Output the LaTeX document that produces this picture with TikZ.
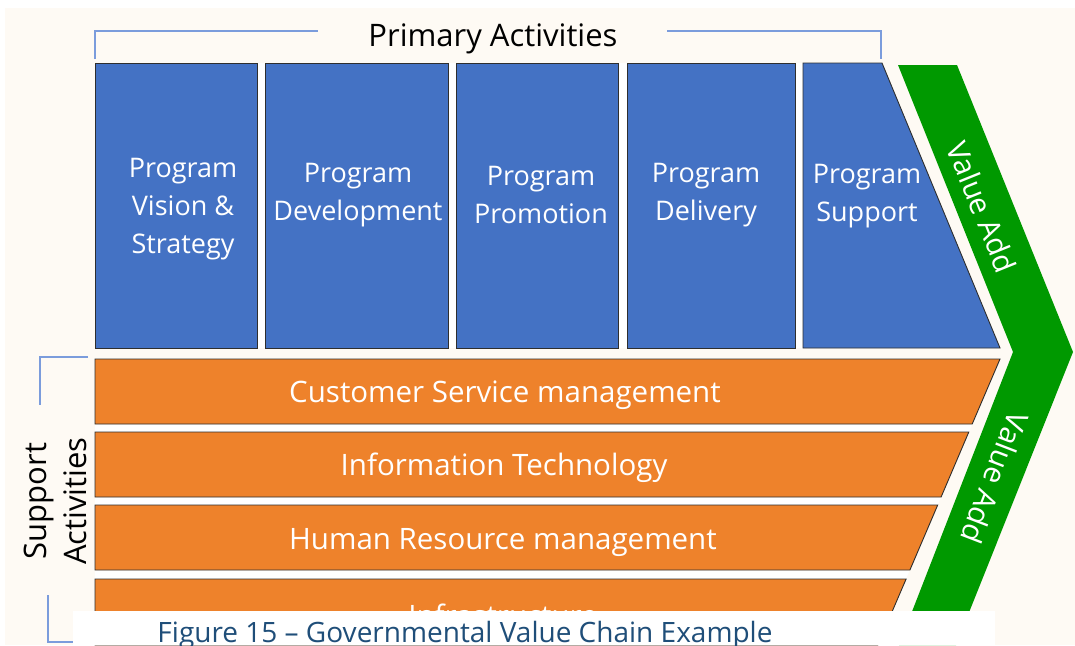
\documentclass[tikz,border=0pt]{standalone}
\usepackage{fontspec}
\setmainfont{Open Sans}
\usepackage{xcolor}
\usetikzlibrary{positioning}

\definecolor{pageback}{HTML}{FEFAF4}
\definecolor{primblue}{HTML}{4472C4}
\definecolor{supporange}{HTML}{EE822B}
\definecolor{valgreen}{HTML}{009900}
\definecolor{bracketblue}{HTML}{7B9CDC}
\definecolor{captionblue}{HTML}{1F4E79}
\definecolor{edgegray}{HTML}{2E2E2E}

\begin{document}
\begin{tikzpicture}[
            x = 1pt, y = -1pt, % one unit per pixel, y going down
            line join = miter,
            semithick % line style
        ]

        \tikzstyle{block}=[
            fill = primblue,
            draw = edgegray,
            line width = 0.9pt
        ]
        \tikzstyle{bar}=[
            fill = supporange,
            draw = edgegray,
            line width = 0.9pt
        ]
        \tikzstyle{bracket}=[
            draw = bracketblue,
            line width = 2.4pt
        ]
        \tikzstyle{blocktext}=[
            text = white,
            align = center,
            font = \fontsize{27}{38}\selectfont
        ]
        \tikzstyle{bartext}=[
            text = white,
            font = \fontsize{29.5}{34}\selectfont
        ]
        \tikzstyle{heading}=[
            text = black,
            align = center,
            font = \fontsize{31}{40}\selectfont
        ]

        \useasboundingbox (0,0) rectangle (1075,645);
        \fill[white] (0,0) rectangle (1075,645);
        \fill[pageback] (5,8) rectangle (1075,645);

        % Primary blocks
        \fill[white] (95,63) -- (882,63) -- (1000,348) -- (95,348) -- cycle;
        \filldraw[block] (95,63) rectangle (257,348);
        \filldraw[block] (265,63) rectangle (448,348);
        \filldraw[block] (456,63) rectangle (618,348);
        \filldraw[block] (627,63) rectangle (795,348);
        \filldraw[block] (803,63) -- (882,63) -- (1000,348) -- (803,348) -- cycle;

        \node[blocktext] (vision) [at={(183,209)}] {Program\\Vision \&\\Strategy};
        \node[blocktext] (develop) [at={(358,195)}] {Program\\Development};
        \node[blocktext] (promo) [at={(541,195)}] {Program\\Promotion};
        \node[blocktext] (delivery) [at={(706,195)}] {Program\\Delivery};
        \node[blocktext] (progsupp) [at={(867,196)}] {Program\\Support};

        % Support bars
        \fill[white] (95,359) -- (1000,359) -- (877.8,645) -- (95,645) -- cycle;
        \filldraw[bar] (95,359) -- (1000,359) -- (972.2,424) -- (95,424) -- cycle;
        \filldraw[bar] (95,432) -- (968.8,432) -- (941.1,497) -- (95,497) -- cycle;
        \filldraw[bar] (95,505) -- (937.7,505) -- (909.9,570) -- (95,570) -- cycle;
        \filldraw[bar] (95,579) -- (906.1,579) -- (877.8,645) -- (95,645) -- cycle;

        \node[bartext] (custsvc) [at={(505,395)}] {Customer Service management};
        \node[bartext] (infotech) [at={(504,468)}] {Information Technology};
        \node[bartext] (humres) [at={(503,543)}] {Human Resource management};
        \node[bartext] (infra) [at={(503,615)}] {Infrastructure};

        % Value add chevron
        \fill[valgreen] (898,65) -- (957,65) -- (1073,352) -- (956,645)
            -- (899,645) -- (1013,352) -- cycle;
        \node[bartext, rotate = -68] (valuetop) [at={(982,207)}] {Value Add};
        \node[bartext, rotate = -111] (valuebot) [at={(995,478)}] {Value Add};

        % Brackets and headings
        \draw[bracket] (95,59) -- (95,31) -- (318,31);
        \draw[bracket] (667,31) -- (881,31) -- (881,59);
        \node[heading] (primlabel) [at={(493,39)}] {Primary Activities};

        \draw[bracket] (88,357) -- (40,357) -- (40,405);
        \draw[bracket] (48,595) -- (48,642) -- (80,642);
        \node[heading, rotate = 90] (supplabel) [at={(55,501)}] {Support\\Activities};

        % Caption
        \fill[white] (73,611) rectangle (995,645);
        \node[anchor = base, text = captionblue, font = \fontsize{28}{34}\selectfont]
            (caption) [at={(465,642)}] {Figure 15 – Governmental Value Chain Example};
      \end{tikzpicture}
\end{document}
